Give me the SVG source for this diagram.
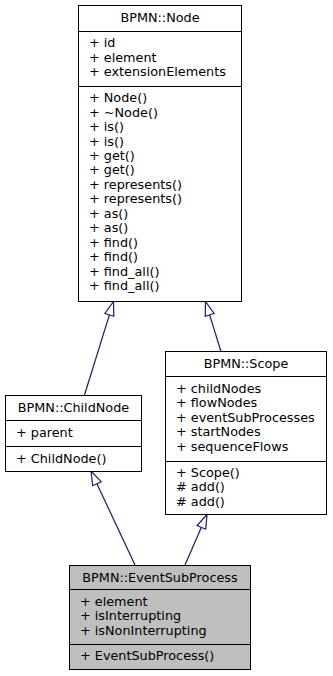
<svg xmlns="http://www.w3.org/2000/svg" width="333" height="676" viewBox="0 0 333 676">
  <style>
    text { font-family: "DejaVu Sans", "Liberation Sans", sans-serif; font-size: 12.8px; fill: #000; }
    .title { text-anchor: middle; }
    .box { fill: #fff; stroke: #000; stroke-width: 1; }
    .box.current { fill: #bfbfbf; }
    .sep { stroke: #000; stroke-width: 1; fill: none; }
    .edge { stroke: #191970; stroke-width: 1.2; fill: none; }
    .head { stroke: #191970; stroke-width: 1.2; fill: #fff; stroke-linejoin: miter; }
  </style>

  <!-- inheritance edges (derived -> base), hollow triangle at base -->
  <g id="edges">
    <g id="edge_childnode_node">
      <line class="edge" x1="84.5" y1="395" x2="109.4" y2="314.9"/>
      <polygon class="head" points="113.5,301.5 104.9,313.5 113.8,316.3"/>
    </g>
    <g id="edge_scope_node">
      <line class="edge" x1="221" y1="351.5" x2="209.6" y2="314.9"/>
      <polygon class="head" points="205.5,301.5 205.2,316.3 214.1,313.5"/>
    </g>
    <g id="edge_esp_childnode">
      <line class="edge" x1="135" y1="565" x2="96.9" y2="483.7"/>
      <polygon class="head" points="91,471 92.7,485.7 101.2,481.7"/>
    </g>
    <g id="edge_esp_scope">
      <line class="edge" x1="185" y1="565" x2="201.4" y2="527.3"/>
      <polygon class="head" points="207,514.5 197.1,525.5 205.7,529.2"/>
    </g>
  </g>

  <!-- BPMN::Node -->
  <g id="node_Node">
    <rect class="box" x="78.5" y="5.5" width="163" height="296"/>
    <line class="sep" x1="78.5" y1="31.5" x2="241.5" y2="31.5"/>
    <line class="sep" x1="78.5" y1="86.5" x2="241.5" y2="86.5"/>
    <text class="title" x="160" y="22">BPMN::Node</text>
    <text x="89" y="47">+ id</text>
    <text x="89" y="61.5">+ element</text>
    <text x="89" y="76">+ extensionElements</text>
    <text x="89" y="102.2">+ Node()</text>
    <text x="89" y="116.6">+ ~Node()</text>
    <text x="89" y="131.1">+ is()</text>
    <text x="89" y="145.5">+ is()</text>
    <text x="89" y="160">+ get()</text>
    <text x="89" y="174.4">+ get()</text>
    <text x="89" y="188.9">+ represents()</text>
    <text x="89" y="203.3">+ represents()</text>
    <text x="89" y="217.8">+ as()</text>
    <text x="89" y="232.2">+ as()</text>
    <text x="89" y="246.7">+ find()</text>
    <text x="89" y="261.1">+ find()</text>
    <text x="89" y="275.6">+ find_all()</text>
    <text x="89" y="290">+ find_all()</text>
  </g>

  <!-- BPMN::ChildNode -->
  <g id="node_ChildNode">
    <rect class="box" x="5.5" y="395.5" width="136" height="76"/>
    <line class="sep" x1="5.5" y1="420.5" x2="141.5" y2="420.5"/>
    <line class="sep" x1="5.5" y1="446.5" x2="141.5" y2="446.5"/>
    <text class="title" x="73.5" y="412">BPMN::ChildNode</text>
    <text x="16" y="436.5">+ parent</text>
    <text x="16" y="462.5">+ ChildNode()</text>
  </g>

  <!-- BPMN::Scope -->
  <g id="node_Scope">
    <rect class="box" x="165.5" y="351.5" width="161" height="163"/>
    <line class="sep" x1="165.5" y1="376.5" x2="326.5" y2="376.5"/>
    <line class="sep" x1="165.5" y1="461.5" x2="326.5" y2="461.5"/>
    <text class="title" x="246" y="368">BPMN::Scope</text>
    <text x="176" y="392.8">+ childNodes</text>
    <text x="176" y="407.3">+ flowNodes</text>
    <text x="176" y="421.8">+ eventSubProcesses</text>
    <text x="176" y="436.3">+ startNodes</text>
    <text x="176" y="450.8">+ sequenceFlows</text>
    <text x="176" y="477">+ Scope()</text>
    <text x="176" y="491.4">#&#160;add()</text>
    <text x="176" y="505.9">#&#160;add()</text>
  </g>

  <!-- BPMN::EventSubProcess (highlighted) -->
  <g id="node_EventSubProcess">
    <rect class="box current" x="69.5" y="565.5" width="181" height="104"/>
    <line class="sep" x1="69.5" y1="589.5" x2="250.5" y2="589.5"/>
    <line class="sep" x1="69.5" y1="644.5" x2="250.5" y2="644.5"/>
    <text class="title" x="160" y="582">BPMN::EventSubProcess</text>
    <text x="80" y="605.5">+ element</text>
    <text x="80" y="620">+ isInterrupting</text>
    <text x="80" y="634.5">+ isNonInterrupting</text>
    <text x="80" y="659.5">+ EventSubProcess()</text>
  </g>
</svg>
